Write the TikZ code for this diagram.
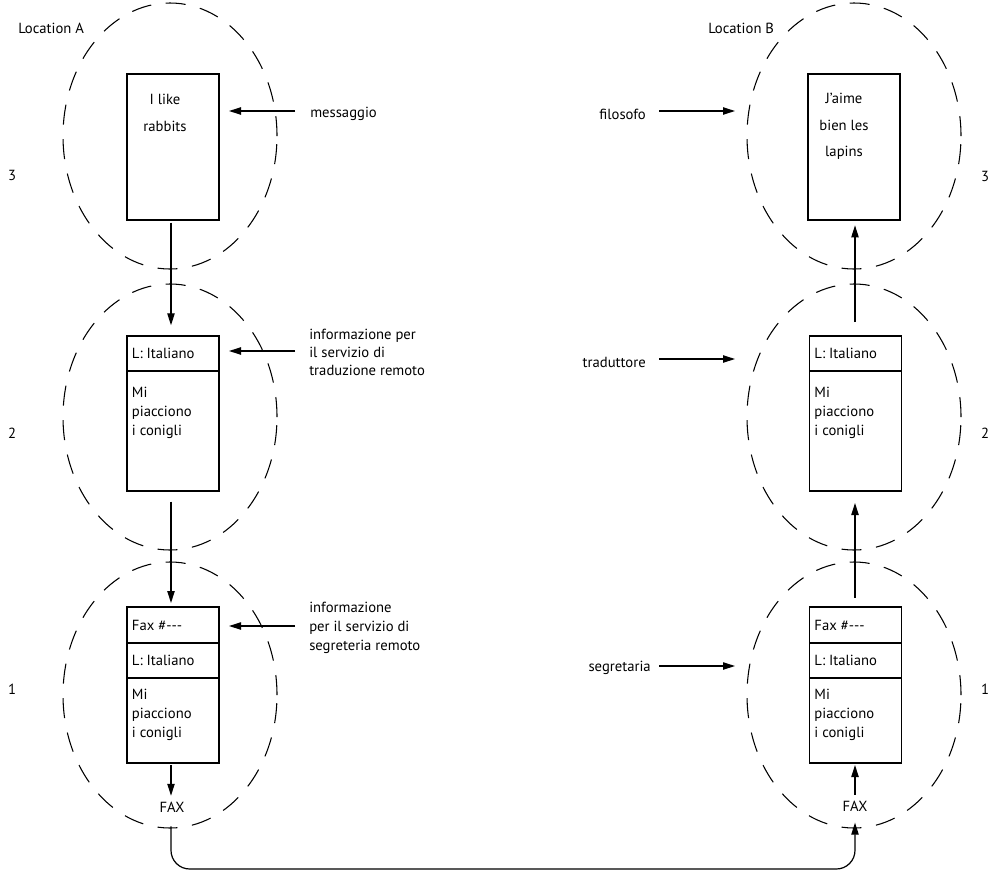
\documentclass[tikz,border=0pt]{standalone}
\usepackage{fontspec}
\setmainfont{PT Sans}
\usetikzlibrary{arrows.meta,shapes.geometric}
\begin{document}
\begin{tikzpicture}[x=0.75pt,y=-0.75pt,
  every node/.style={font=\fontsize{11}{14}\selectfont},
  ring/.style={draw, ellipse, dash pattern=on 15pt off 11pt, line width=0.8pt,
    minimum width=160.5pt, minimum height=199.5pt, inner sep=0pt},
  box/.style={draw, line width=0.9pt, minimum width=69pt, inner sep=0pt, outer sep=0pt},
  lbl/.style={inner sep=0pt, align=left},
  arr/.style={draw, line width=0.9pt, -{Triangle[length=9pt,width=5.5pt]}}
]
\useasboundingbox (0,0) rectangle (1000,872);

% dashed rings
\node[ring] (rA3) at (170,136) {};
\node[ring] (rA2) at (170,417) {};
\node[ring] (rA1) at (170,695) {};
\node[ring] (rB3) at (854,136) {};
\node[ring] (rB2) at (854,417) {};
\node[ring] (rB1) at (854,695) {};

% location A boxes
\node[box, minimum height=109.5pt] (A3) at (173,147) {};
\node[box, minimum height=26.25pt] (A2h) at (173,353.5) {};
\node[box, minimum height=90pt] (A2b) at (173,431) {};
\node[box, minimum height=27pt] (A1f) at (173,625) {};
\node[box, minimum height=26.25pt] (A1l) at (173,660.5) {};
\node[box, minimum height=63.75pt] (A1b) at (173,720.5) {};

% location B boxes
\node[box, minimum height=109.5pt] (B3) at (854,147) {};
\node[box, minimum height=26.25pt] (B2h) at (855.5,353.5) {};
\node[box, minimum height=90pt] (B2b) at (855.5,431) {};
\node[box, minimum height=27pt] (B1f) at (855.5,625) {};
\node[box, minimum height=26.25pt] (B1l) at (855.5,660.5) {};
\node[box, minimum height=63.75pt] (B1b) at (855.5,720.5) {};

% box texts
\node[inner sep=0pt, align=center, font=\fontsize{11}{20}\selectfont] (tA3) at (165,113) {I like\\rabbits};
\node[inner sep=0pt, align=center, font=\fontsize{11}{20}\selectfont] (tB3) at (844,126.5) {J'aime\\bien les\\lapins};

\node[lbl, anchor=west] (tA2h) at ([xshift=3.5pt]A2h.west) {L: Italiano};
\node[lbl, anchor=north west, font=\fontsize{11}{14.25}\selectfont] (tA2b) at ([xshift=3.5pt,yshift=-12pt]A2b.north west) {Mi\\piacciono\\i conigli};
\node[lbl, anchor=west] (tA1f) at ([xshift=3.5pt]A1f.west) {Fax \#{-}{-}{-}};
\node[lbl, anchor=west] (tA1l) at ([xshift=3.5pt]A1l.west) {L: Italiano};
\node[lbl, anchor=north west, font=\fontsize{11}{14.25}\selectfont] (tA1b) at ([xshift=3.5pt,yshift=-8pt]A1b.north west) {Mi\\piacciono\\i conigli};

\node[lbl, anchor=west] (tB2h) at ([xshift=3.5pt]B2h.west) {L: Italiano};
\node[lbl, anchor=north west, font=\fontsize{11}{14.25}\selectfont] (tB2b) at ([xshift=3.5pt,yshift=-12pt]B2b.north west) {Mi\\piacciono\\i conigli};
\node[lbl, anchor=west] (tB1f) at ([xshift=3.5pt]B1f.west) {Fax \#{-}{-}{-}};
\node[lbl, anchor=west] (tB1l) at ([xshift=3.5pt]B1l.west) {L: Italiano};
\node[lbl, anchor=north west, font=\fontsize{11}{14.25}\selectfont] (tB1b) at ([xshift=3.5pt,yshift=-8pt]B1b.north west) {Mi\\piacciono\\i conigli};

% FAX labels
\node (faxA) at (172,807) {FAX};
\node (faxB) at (855,806) {FAX};

% vertical arrows, location A (slightly left of box centre, as drawn)
\draw[arr, shorten <=2pt, shorten >=8pt] ([xshift=-1.5pt]A3.south) -- ([xshift=-1.5pt]A2h.north);
\draw[arr, shorten <=8pt, shorten >=3pt] ([xshift=-1.5pt]A2b.south) -- ([xshift=-1.5pt]A1f.north);
\draw[arr, shorten <=1.5pt, shorten >=1pt] ([xshift=-1.5pt]A1b.south) -- ([xshift=-0.75pt]faxA.north);

% vertical arrows, location B
\draw[arr, shorten <=1pt, shorten >=1.5pt] (faxB.north) -- (faxB.north |- B1b.south);
\draw[arr, shorten <=7pt, shorten >=9pt] (faxB.north |- B1f.north) -- (faxB.north |- B2b.south);
\draw[arr, shorten <=10.5pt, shorten >=4pt] (faxB.north |- B2h.north) -- (faxB.north |- B3.south);

% bottom link
\coordinate (bus) at (513,869);
\draw[arr, rounded corners=14pt, shorten <=7pt, shorten >=5pt] ([xshift=-0.75pt]faxA.south) |- (bus) -| (faxB.south);

% labels and arrows, location A
\node[lbl, anchor=west] (msg) at (310,114) {messaggio};
\coordinate (msgS) at (295,111);
\draw[arr, shorten >=7.5pt] (msgS) -- (msgS -| A3.east);

\node[lbl, anchor=north west, font=\fontsize{11}{13.5}\selectfont] (trinfo) at (309,329) {informazione per\\il servizio di\\traduzione remoto};
\coordinate (trS) at (295,351);
\draw[arr, shorten >=7.5pt] (trS) -- (trS -| A2h.east);

\node[lbl, anchor=north west, font=\fontsize{11}{14.25}\selectfont] (seinfo) at (309,602) {informazione\\per il servizio di\\segreteria remoto};
\coordinate (seS) at (295,626);
\draw[arr, shorten >=7.5pt] (seS) -- (seS -| A1f.east);

% labels and arrows, location B
\node[lbl, anchor=east] (fil) at (646,114) {filosofo};
\coordinate (filS) at (659,111);
\coordinate (filE) at (735,111);
\draw[arr] (filS) -- (filE);

\node[lbl, anchor=east] (tra) at (646,362) {traduttore};
\coordinate (traS) at (659,359);
\coordinate (traE) at (735,359);
\draw[arr] (traS) -- (traE);

\node[lbl, anchor=east] (seg) at (651,668) {segretaria};
\coordinate (segS) at (659,666);
\coordinate (segE) at (735,666);
\draw[arr] (segS) -- (segE);

% location titles and level numbers
\node[lbl, anchor=west] (locA) at (18,28) {Location A};
\node[lbl, anchor=west] (locB) at (708,28) {Location B};
\node[lbl] (nA3) at (12,175) {3};
\node[lbl] (nA2) at (12,433) {2};
\node[lbl] (nA1) at (12,689) {1};
\node[lbl] (nB3) at (985,176) {3};
\node[lbl] (nB2) at (985,433) {2};
\node[lbl] (nB1) at (985,689) {1};
\end{tikzpicture}
\end{document}
